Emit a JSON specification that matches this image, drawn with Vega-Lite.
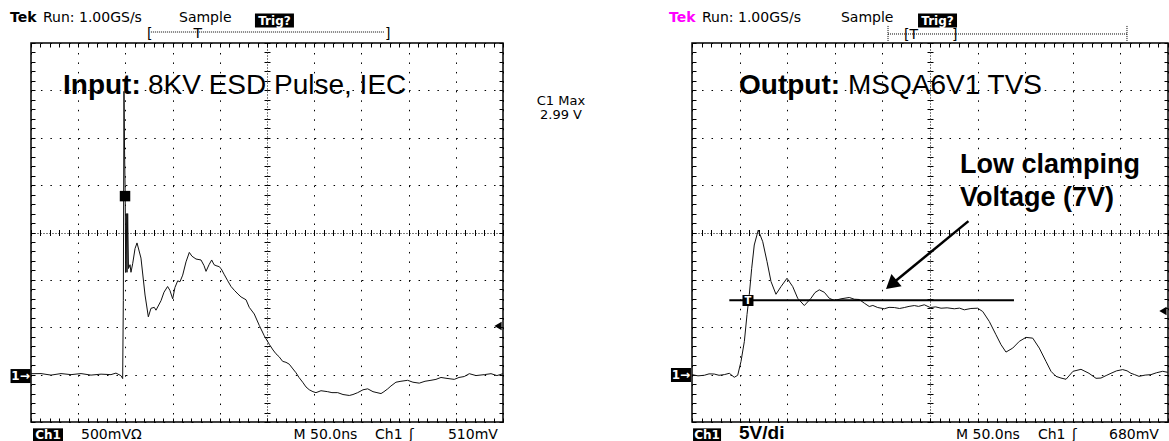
{
  "$schema": "https://vega.github.io/schema/vega-lite/v6.json",
  "autosize": {"type": "pad"},
  "padding": {"left": 9, "top": 10, "right": 0, "bottom": 0},
  "background": "white",
  "bounds": "flush",
  "spacing": 189,
  "config": {"view": {"stroke": "#000", "strokeWidth": 1.5}},
  "datasets": {
    "leftTrace": [{"t":0,"v":0.01},{"t":10.6,"v":0.011},{"t":21.2,"v":-0.005},{"t":31.8,"v":0.011},{"t":42.4,"v":0},{"t":53,"v":0.011},{"t":63.6,"v":-0.005},{"t":74.2,"v":0.005},{"t":84.7,"v":0},{"t":90,"v":0.016},{"t":95.3,"v":-0.011},{"t":97.1,"v":-0.042},{"t":97.8,"v":0.783},{"t":98.5,"v":2.99},{"t":99.1,"v":2.37},{"t":99.8,"v":1.89},{"t":100.3,"v":1.08},{"t":100.9,"v":1.7},{"t":101.7,"v":1.08},{"t":102.4,"v":1.7},{"t":103.3,"v":1.12},{"t":104.9,"v":1.16},{"t":105.9,"v":1.08},{"t":107.7,"v":1.17},{"t":110.2,"v":1.33},{"t":112.3,"v":1.39},{"t":116.5,"v":1.23},{"t":120.8,"v":0.84},{"t":124.3,"v":0.61},{"t":127.1,"v":0.7},{"t":130.6,"v":0.71},{"t":132.4,"v":0.68},{"t":137.7,"v":0.78},{"t":140.9,"v":0.87},{"t":144.7,"v":0.93},{"t":147.1,"v":0.89},{"t":150.1,"v":0.8},{"t":152.5,"v":0.92},{"t":155.4,"v":0.99},{"t":157.8,"v":0.98},{"t":160.7,"v":1.05},{"t":164.2,"v":1.19},{"t":167.7,"v":1.29},{"t":170.5,"v":1.25},{"t":174.8,"v":1.22},{"t":180.1,"v":1.21},{"t":183.3,"v":1.15},{"t":185.4,"v":1.09},{"t":188.6,"v":1.16},{"t":191.4,"v":1.21},{"t":193.9,"v":1.16},{"t":196,"v":1.15},{"t":199.2,"v":1.14},{"t":201.3,"v":1.12},{"t":204.5,"v":1.06},{"t":208.4,"v":0.99},{"t":211.9,"v":0.93},{"t":215.4,"v":0.89},{"t":219.3,"v":0.85},{"t":222.5,"v":0.82},{"t":227.8,"v":0.79},{"t":231.2,"v":0.71},{"t":236.5,"v":0.64},{"t":241.8,"v":0.52},{"t":247.1,"v":0.41},{"t":252.4,"v":0.32},{"t":256.4,"v":0.26},{"t":259.5,"v":0.22},{"t":262.7,"v":0.19},{"t":266.6,"v":0.14},{"t":270.1,"v":0.13},{"t":273.6,"v":0.11},{"t":277.5,"v":0.06},{"t":280.7,"v":0.02},{"t":283.9,"v":-0.03},{"t":287.8,"v":-0.08},{"t":291.3,"v":-0.13},{"t":294.8,"v":-0.16},{"t":298.7,"v":-0.18},{"t":301.9,"v":-0.19},{"t":307.2,"v":-0.17},{"t":314.3,"v":-0.18},{"t":318.8,"v":-0.19},{"t":324.9,"v":-0.19},{"t":330.5,"v":-0.21},{"t":337.2,"v":-0.22},{"t":341.1,"v":-0.21},{"t":346.1,"v":-0.19},{"t":351.7,"v":-0.16},{"t":356.7,"v":-0.15},{"t":362.3,"v":-0.18},{"t":366.5,"v":-0.19},{"t":370.8,"v":-0.2},{"t":373.9,"v":-0.18},{"t":377.9,"v":-0.15},{"t":381.3,"v":-0.12},{"t":386.6,"v":-0.08},{"t":391.9,"v":-0.07},{"t":399,"v":-0.06},{"t":404.6,"v":-0.08},{"t":411.3,"v":-0.09},{"t":417.4,"v":-0.07},{"t":423.7,"v":-0.06},{"t":429,"v":-0.05},{"t":434.3,"v":-0.03},{"t":440.7,"v":-0.04},{"t":448.4,"v":-0.05},{"t":453.4,"v":-0.03},{"t":459,"v":-0.02},{"t":464.3,"v":0.01},{"t":471.4,"v":-0.01},{"t":480.2,"v":0},{"t":487.3,"v":0.01},{"t":493.6,"v":-0.01},{"t":500,"v":0.01}],
    "rightTrace": [{"t":0,"v":0},{"t":6.3,"v":-0.13},{"t":12.9,"v":-0.07},{"t":17.9,"v":0.08},{"t":23.4,"v":0.06},{"t":28.4,"v":-0.07},{"t":33.9,"v":0},{"t":39.2,"v":0.14},{"t":44.4,"v":-0.28},{"t":48,"v":-0.07},{"t":51.5,"v":1.4},{"t":55,"v":3.51},{"t":57.8,"v":6.35},{"t":60.2,"v":8.45},{"t":62.7,"v":11.22},{"t":65.4,"v":13.68},{"t":69.6,"v":15.26},{"t":74.3,"v":14.03},{"t":78.8,"v":11.93},{"t":83,"v":9.82},{"t":88.2,"v":8.48},{"t":93.5,"v":9.29},{"t":99.8,"v":10.17},{"t":105.8,"v":9.29},{"t":111,"v":8.06},{"t":118,"v":7.29},{"t":125,"v":8.06},{"t":129.2,"v":8.66},{"t":133.7,"v":8.95},{"t":139,"v":8.69},{"t":144.2,"v":8.06},{"t":149.5,"v":7.82},{"t":156.5,"v":8.0},{"t":165.2,"v":8.14},{"t":170.5,"v":7.96},{"t":175.7,"v":7.93},{"t":181,"v":7.54},{"t":186.2,"v":7.19},{"t":190,"v":7.3},{"t":195.1,"v":7.08},{"t":202,"v":6.95},{"t":207,"v":7.1},{"t":212.5,"v":7.08},{"t":218,"v":6.98},{"t":223,"v":7.08},{"t":228,"v":7.2},{"t":233.5,"v":7.29},{"t":238,"v":7.2},{"t":244,"v":7.37},{"t":250.3,"v":7.08},{"t":256,"v":7.15},{"t":261.6,"v":7.01},{"t":268,"v":7.05},{"t":275.5,"v":6.95},{"t":281,"v":7.02},{"t":286,"v":6.84},{"t":293,"v":6.98},{"t":300.1,"v":7.01},{"t":305.4,"v":6.66},{"t":312.3,"v":5.61},{"t":319.3,"v":4.21},{"t":324.6,"v":3.16},{"t":329.8,"v":2.38},{"t":336.9,"v":2.8},{"t":343.8,"v":3.51},{"t":350.8,"v":3.93},{"t":357.9,"v":3.85},{"t":364.8,"v":2.8},{"t":371.8,"v":1.4},{"t":377.1,"v":0.35},{"t":382.3,"v":-0.18},{"t":387.6,"v":-0.36},{"t":392.9,"v":-0.49},{"t":400.2,"v":0.35},{"t":408.6,"v":0.56},{"t":417,"v":0.14},{"t":424.4,"v":-0.39},{"t":429.6,"v":-0.36},{"t":435,"v":-0.1},{"t":440.1,"v":0.14},{"t":446,"v":0.4},{"t":452.4,"v":0.53},{"t":457,"v":0.4},{"t":461.1,"v":0.14},{"t":465,"v":0.0},{"t":469.5,"v":-0.18},{"t":476,"v":-0.05},{"t":482.1,"v":0},{"t":488,"v":0.2},{"t":494.4,"v":0.35},{"t":500,"v":0.24}]
  },
  "hconcat": [
    {
      "width": 472,
      "height": 379,
      "resolve": {"axis": {"x": "independent", "y": "independent"}},
      "layer": [
        {
          "data": {"name": "leftTrace"},
          "mark": {"type": "line", "color": "#111", "strokeWidth": 1},
          "encoding": {
            "x": {"field": "t", "type": "quantitative", "scale": {"domain": [0, 500], "nice": false, "zero": false},
              "axis": {"orient": "bottom", "values": [0,10,20,30,40,50,60,70,80,90,100,110,120,130,140,150,160,170,180,190,200,210,220,230,240,250,260,270,280,290,300,310,320,330,340,350,360,370,380,390,400,410,420,430,440,450,460,470,480,490,500],
                "domain": false, "labels": false, "title": null, "grid": true, "gridColor": "#000", "gridWidth": 1,
                "gridOpacity": {"condition": {"test": "datum.value % 50 === 0", "value": 1}, "value": 0},
                "gridDash": {"condition": {"test": "datum.value === 250", "value": [1, 2]}, "value": [1.5, 7.975]},
                "tickSize": -4, "tickColor": "#000", "tickWidth": 1}},
            "y": {"field": "v", "type": "quantitative", "scale": {"domain": [-0.5, 3.5], "nice": false, "zero": false},
              "axis": {"orient": "left", "values": [-0.5,-0.4,-0.3,-0.2,-0.1,0,0.1,0.2,0.3,0.4,0.5,0.6,0.7,0.8,0.9,1,1.1,1.2,1.3,1.4,1.5,1.6,1.7,1.8,1.9,2,2.1,2.2,2.3,2.4,2.5,2.6,2.7,2.8,2.9,3,3.1,3.2,3.3,3.4,3.5],
                "domain": false, "labels": false, "title": null, "grid": true, "gridColor": "#000", "gridWidth": 1,
                "gridOpacity": {"condition": {"test": "abs(datum.value*2 - round(datum.value*2)) < 0.001", "value": 1}, "value": 0},
                "gridDash": {"condition": {"test": "abs(datum.value - 1.5) < 0.001", "value": [1, 2]}, "value": [1.5, 7.94]},
                "tickSize": -4, "tickColor": "#000", "tickWidth": 1}}
          }
        },
        {
          "data": {"values": [{"t": 33.9, "v": 2.962, "label": "Input:"}]},
          "mark": {"type": "text", "align": "left", "baseline": "alphabetic", "font": "Liberation Sans", "fontSize": 28, "fontWeight": "bold", "color": "#000"},
          "encoding": {
            "x": {"field": "t", "type": "quantitative", "scale": {"domain": [0, 500], "nice": false, "zero": false},
              "axis": {"orient": "top", "values": [0,10,20,30,40,50,60,70,80,90,100,110,120,130,140,150,160,170,180,190,200,210,220,230,240,250,260,270,280,290,300,310,320,330,340,350,360,370,380,390,400,410,420,430,440,450,460,470,480,490,500],
                "domain": false, "labels": false, "title": null, "grid": false, "tickSize": -4, "tickColor": "#000", "tickWidth": 1}},
            "y": {"field": "v", "type": "quantitative", "scale": {"domain": [-0.5, 3.5], "nice": false, "zero": false},
              "axis": {"orient": "right", "values": [-0.5,-0.4,-0.3,-0.2,-0.1,0,0.1,0.2,0.3,0.4,0.5,0.6,0.7,0.8,0.9,1,1.1,1.2,1.3,1.4,1.5,1.6,1.7,1.8,1.9,2,2.1,2.2,2.3,2.4,2.5,2.6,2.7,2.8,2.9,3,3.1,3.2,3.3,3.4,3.5],
                "domain": false, "labels": false, "title": null, "grid": false, "tickSize": -4, "tickColor": "#000", "tickWidth": 1}},
            "text": {"field": "label"}
          }
        },
        {
          "data": {"values": [{"t": 99.6, "v": 1.884}]},
          "mark": {"type": "point", "shape": "square", "size": 110, "filled": true, "color": "#000", "opacity": 1},
          "encoding": {
            "x": {"field": "t", "type": "quantitative", "scale": {"domain": [0, 500], "nice": false, "zero": false},
              "axis": {"orient": "bottom", "offset": -189.5, "values": [0,10,20,30,40,50,60,70,80,90,100,110,120,130,140,150,160,170,180,190,200,210,220,230,240,250,260,270,280,290,300,310,320,330,340,350,360,370,380,390,400,410,420,430,440,450,460,470,480,490,500],
                "domain": false, "labels": false, "title": null, "grid": false, "tickSize": 3, "tickColor": "#000", "tickWidth": 1}},
            "y": {"field": "v", "type": "quantitative", "scale": {"domain": [-0.5, 3.5], "nice": false, "zero": false},
              "axis": {"orient": "left", "offset": -236, "values": [-0.5,-0.4,-0.3,-0.2,-0.1,0,0.1,0.2,0.3,0.4,0.5,0.6,0.7,0.8,0.9,1,1.1,1.2,1.3,1.4,1.5,1.6,1.7,1.8,1.9,2,2.1,2.2,2.3,2.4,2.5,2.6,2.7,2.8,2.9,3,3.1,3.2,3.3,3.4,3.5],
                "domain": false, "labels": false, "title": null, "grid": false, "tickSize": 3, "tickColor": "#000", "tickWidth": 1}}
          }
        },
        {
          "data": {"values": [{"t": 123.9, "v": 2.962, "label": "8KV ESD Pulse, IEC"}]},
          "mark": {"type": "text", "align": "left", "baseline": "alphabetic", "font": "Liberation Sans", "fontSize": 28, "color": "#000"},
          "encoding": {
            "x": {"field": "t", "type": "quantitative", "scale": {"domain": [0, 500], "nice": false, "zero": false},
              "axis": {"orient": "top", "offset": -189.5, "values": [0,10,20,30,40,50,60,70,80,90,100,110,120,130,140,150,160,170,180,190,200,210,220,230,240,250,260,270,280,290,300,310,320,330,340,350,360,370,380,390,400,410,420,430,440,450,460,470,480,490,500],
                "domain": false, "labels": false, "title": null, "grid": false, "tickSize": 3, "tickColor": "#000", "tickWidth": 1}},
            "y": {"field": "v", "type": "quantitative", "scale": {"domain": [-0.5, 3.5], "nice": false, "zero": false},
              "axis": {"orient": "right", "offset": -236, "values": [-0.5,-0.4,-0.3,-0.2,-0.1,0,0.1,0.2,0.3,0.4,0.5,0.6,0.7,0.8,0.9,1,1.1,1.2,1.3,1.4,1.5,1.6,1.7,1.8,1.9,2,2.1,2.2,2.3,2.4,2.5,2.6,2.7,2.8,2.9,3,3.1,3.2,3.3,3.4,3.5],
                "domain": false, "labels": false, "title": null, "grid": false, "tickSize": 3, "tickColor": "#000", "tickWidth": 1}},
            "text": {"field": "label"}
          }
        },
        {
          "data": {"values": [
            {"t": 12.7, "v": 3.72, "label": "Run: 1.00GS/s"},
            {"t": 156.8, "v": 3.72, "label": "Sample"},
            {"t": 53, "v": -0.68, "label": "500mVΩ"},
            {"t": 278.1, "v": -0.68, "label": "M 50.0ns"},
            {"t": 364.4, "v": -0.68, "label": "Ch1"},
            {"t": 400.4, "v": -0.68, "label": "ʃ"},
            {"t": 441.7, "v": -0.68, "label": "510mV"},
            {"t": 122.9, "v": 3.553, "label": "["},
            {"t": 375, "v": 3.553, "label": "]"},
            {"t": 172.1, "v": 3.553, "label": "T"}
          ]},
          "mark": {"type": "text", "align": "left", "baseline": "alphabetic", "font": "DejaVu Sans", "fontSize": 14, "color": "#000"},
          "encoding": {
            "x": {"field": "t", "type": "quantitative", "scale": {"domain": [0, 500], "nice": false, "zero": false}, "axis": null},
            "y": {"field": "v", "type": "quantitative", "scale": {"domain": [-0.5, 3.5], "nice": false, "zero": false}, "axis": null},
            "text": {"field": "label"}
          }
        },
        {
          "data": {"values": [{"t": -22.2, "v": 3.72, "label": "Tek"}]},
          "mark": {"type": "text", "align": "left", "baseline": "alphabetic", "font": "DejaVu Sans", "fontSize": 14, "fontWeight": "bold", "color": "#000"},
          "encoding": {
            "x": {"field": "t", "type": "quantitative", "scale": {"domain": [0, 500], "nice": false, "zero": false}, "axis": null},
            "y": {"field": "v", "type": "quantitative", "scale": {"domain": [-0.5, 3.5], "nice": false, "zero": false}, "axis": null},
            "text": {"field": "label"}
          }
        },
        {
          "data": {"values": [{"t": 561.4, "v": 2.845, "label": "C1 Max"}, {"t": 561.4, "v": 2.698, "label": "2.99 V"}]},
          "mark": {"type": "text", "align": "center", "baseline": "alphabetic", "font": "DejaVu Sans", "fontSize": 13, "color": "#000"},
          "encoding": {
            "x": {"field": "t", "type": "quantitative", "scale": {"domain": [0, 500], "nice": false, "zero": false}, "axis": null},
            "y": {"field": "v", "type": "quantitative", "scale": {"domain": [-0.5, 3.5], "nice": false, "zero": false}, "axis": null},
            "text": {"field": "label"}
          }
        },
        {
          "data": {"values": [{"t": 257.9, "v": 3.737}]},
          "mark": {"type": "point", "shape": "M-1,-0.36H1V0.36H-1Z", "size": 1521, "filled": true, "color": "#000", "opacity": 1},
          "encoding": {
            "x": {"field": "t", "type": "quantitative", "scale": {"domain": [0, 500], "nice": false, "zero": false}, "axis": null},
            "y": {"field": "v", "type": "quantitative", "scale": {"domain": [-0.5, 3.5], "nice": false, "zero": false}, "axis": null}
          }
        },
        {
          "data": {"values": [{"t": 18, "v": -0.635}]},
          "mark": {"type": "point", "shape": "M-1,-0.43H1V0.43H-1Z", "size": 900, "filled": true, "color": "#000", "opacity": 1},
          "encoding": {
            "x": {"field": "t", "type": "quantitative", "scale": {"domain": [0, 500], "nice": false, "zero": false}, "axis": null},
            "y": {"field": "v", "type": "quantitative", "scale": {"domain": [-0.5, 3.5], "nice": false, "zero": false}, "axis": null}
          }
        },
        {
          "data": {"values": [{"t": -11.1, "v": -0.015}]},
          "mark": {"type": "point", "shape": "M-1,-0.7H1V0.7H-1Z", "size": 400, "filled": true, "color": "#000", "opacity": 1},
          "encoding": {
            "x": {"field": "t", "type": "quantitative", "scale": {"domain": [0, 500], "nice": false, "zero": false}, "axis": null},
            "y": {"field": "v", "type": "quantitative", "scale": {"domain": [-0.5, 3.5], "nice": false, "zero": false}, "axis": null}
          }
        },
        {
          "data": {"values": [{"t": 257.9, "v": 3.737, "label": "Trig?"}, {"t": 18, "v": -0.635, "label": "Ch1"}, {"t": -11.1, "v": -0.015, "label": "1→"}]},
          "mark": {"type": "text", "align": "center", "baseline": "middle", "font": "DejaVu Sans", "fontSize": 12, "fontWeight": "bold", "color": "#fff"},
          "encoding": {
            "x": {"field": "t", "type": "quantitative", "scale": {"domain": [0, 500], "nice": false, "zero": false}, "axis": null},
            "y": {"field": "v", "type": "quantitative", "scale": {"domain": [-0.5, 3.5], "nice": false, "zero": false}, "axis": null},
            "text": {"field": "label"}
          }
        },
        {
          "data": {"values": [{"t": 127, "t2": 374, "v": 3.616}]},
          "mark": {"type": "rule", "color": "#000", "strokeWidth": 1, "strokeDash": [1, 1]},
          "encoding": {
            "x": {"field": "t", "type": "quantitative", "scale": {"domain": [0, 500], "nice": false, "zero": false}, "axis": null},
            "x2": {"field": "t2"},
            "y": {"field": "v", "type": "quantitative", "scale": {"domain": [-0.5, 3.5], "nice": false, "zero": false}, "axis": null}
          }
        },
        {
          "data": {"values": [{"t": 494.7, "v": 0.513}]},
          "mark": {"type": "point", "shape": "triangle-left", "size": 70, "filled": true, "color": "#000", "opacity": 1},
          "encoding": {
            "x": {"field": "t", "type": "quantitative", "scale": {"domain": [0, 500], "nice": false, "zero": false}, "axis": null},
            "y": {"field": "v", "type": "quantitative", "scale": {"domain": [-0.5, 3.5], "nice": false, "zero": false}, "axis": null}
          }
        }
      ]
    },
    {
      "width": 476,
      "height": 379,
      "resolve": {"axis": {"x": "independent", "y": "independent"}},
      "layer": [
        {
          "data": {"name": "rightTrace"},
          "mark": {"type": "line", "color": "#111", "strokeWidth": 1},
          "encoding": {
            "x": {"field": "t", "type": "quantitative", "scale": {"domain": [0, 500], "nice": false, "zero": false},
              "axis": {"orient": "bottom", "values": [0,10,20,30,40,50,60,70,80,90,100,110,120,130,140,150,160,170,180,190,200,210,220,230,240,250,260,270,280,290,300,310,320,330,340,350,360,370,380,390,400,410,420,430,440,450,460,470,480,490,500],
                "domain": false, "labels": false, "title": null, "grid": true, "gridColor": "#000", "gridWidth": 1,
                "gridOpacity": {"condition": {"test": "datum.value % 50 === 0", "value": 1}, "value": 0},
                "gridDash": {"condition": {"test": "datum.value === 250", "value": [1, 2]}, "value": [1.5, 7.975]},
                "tickSize": -4, "tickColor": "#000", "tickWidth": 1}},
            "y": {"field": "v", "type": "quantitative", "scale": {"domain": [-5, 35], "nice": false, "zero": false},
              "axis": {"orient": "left", "values": [-5,-4,-3,-2,-1,0,1,2,3,4,5,6,7,8,9,10,11,12,13,14,15,16,17,18,19,20,21,22,23,24,25,26,27,28,29,30,31,32,33,34,35],
                "domain": false, "labels": false, "title": null, "grid": true, "gridColor": "#000", "gridWidth": 1,
                "gridOpacity": {"condition": {"test": "datum.value % 5 === 0", "value": 1}, "value": 0},
                "gridDash": {"condition": {"test": "datum.value === 15", "value": [1, 2]}, "value": [1.5, 8.02]},
                "tickSize": -4, "tickColor": "#000", "tickWidth": 1}}
          }
        },
        {
          "data": {"values": [{"t": 281.5, "v": 21.28, "label": "Low clamping"}, {"t": 281.5, "v": 17.8, "label": "Voltage (7V)"}]},
          "mark": {"type": "text", "align": "left", "baseline": "alphabetic", "font": "Liberation Sans", "fontSize": 27, "fontWeight": "bold", "color": "#000"},
          "encoding": {
            "x": {"field": "t", "type": "quantitative", "scale": {"domain": [0, 500], "nice": false, "zero": false},
              "axis": {"orient": "top", "values": [0,10,20,30,40,50,60,70,80,90,100,110,120,130,140,150,160,170,180,190,200,210,220,230,240,250,260,270,280,290,300,310,320,330,340,350,360,370,380,390,400,410,420,430,440,450,460,470,480,490,500],
                "domain": false, "labels": false, "title": null, "grid": false, "tickSize": -4, "tickColor": "#000", "tickWidth": 1}},
            "y": {"field": "v", "type": "quantitative", "scale": {"domain": [-5, 35], "nice": false, "zero": false},
              "axis": {"orient": "right", "values": [-5,-4,-3,-2,-1,0,1,2,3,4,5,6,7,8,9,10,11,12,13,14,15,16,17,18,19,20,21,22,23,24,25,26,27,28,29,30,31,32,33,34,35],
                "domain": false, "labels": false, "title": null, "grid": false, "tickSize": -4, "tickColor": "#000", "tickWidth": 1}},
            "text": {"field": "label"}
          }
        },
        {
          "data": {"values": [{"t": 58.8, "v": 7.82}]},
          "mark": {"type": "point", "shape": "square", "size": 121, "filled": true, "color": "#000", "opacity": 1},
          "encoding": {
            "x": {"field": "t", "type": "quantitative", "scale": {"domain": [0, 500], "nice": false, "zero": false},
              "axis": {"orient": "bottom", "offset": -189.5, "values": [0,10,20,30,40,50,60,70,80,90,100,110,120,130,140,150,160,170,180,190,200,210,220,230,240,250,260,270,280,290,300,310,320,330,340,350,360,370,380,390,400,410,420,430,440,450,460,470,480,490,500],
                "domain": false, "labels": false, "title": null, "grid": false, "tickSize": 3, "tickColor": "#000", "tickWidth": 1}},
            "y": {"field": "v", "type": "quantitative", "scale": {"domain": [-5, 35], "nice": false, "zero": false},
              "axis": {"orient": "left", "offset": -238, "values": [-5,-4,-3,-2,-1,0,1,2,3,4,5,6,7,8,9,10,11,12,13,14,15,16,17,18,19,20,21,22,23,24,25,26,27,28,29,30,31,32,33,34,35],
                "domain": false, "labels": false, "title": null, "grid": false, "tickSize": 3, "tickColor": "#000", "tickWidth": 1}}
          }
        },
        {
          "data": {"values": [{"t": 163.9, "v": 29.6, "label": "MSQA6V1 TVS"}]},
          "mark": {"type": "text", "align": "left", "baseline": "alphabetic", "font": "Liberation Sans", "fontSize": 28, "color": "#000"},
          "encoding": {
            "x": {"field": "t", "type": "quantitative", "scale": {"domain": [0, 500], "nice": false, "zero": false},
              "axis": {"orient": "top", "offset": -189.5, "values": [0,10,20,30,40,50,60,70,80,90,100,110,120,130,140,150,160,170,180,190,200,210,220,230,240,250,260,270,280,290,300,310,320,330,340,350,360,370,380,390,400,410,420,430,440,450,460,470,480,490,500],
                "domain": false, "labels": false, "title": null, "grid": false, "tickSize": 3, "tickColor": "#000", "tickWidth": 1}},
            "y": {"field": "v", "type": "quantitative", "scale": {"domain": [-5, 35], "nice": false, "zero": false},
              "axis": {"orient": "right", "offset": -238, "values": [-5,-4,-3,-2,-1,0,1,2,3,4,5,6,7,8,9,10,11,12,13,14,15,16,17,18,19,20,21,22,23,24,25,26,27,28,29,30,31,32,33,34,35],
                "domain": false, "labels": false, "title": null, "grid": false, "tickSize": 3, "tickColor": "#000", "tickWidth": 1}},
            "text": {"field": "label"}
          }
        },
        {
          "data": {"values": [{"t": 49.4, "v": 29.6, "label": "Output:"}]},
          "mark": {"type": "text", "align": "left", "baseline": "alphabetic", "font": "Liberation Sans", "fontSize": 28, "fontWeight": "bold", "color": "#000"},
          "encoding": {
            "x": {"field": "t", "type": "quantitative", "scale": {"domain": [0, 500], "nice": false, "zero": false}, "axis": null},
            "y": {"field": "v", "type": "quantitative", "scale": {"domain": [-5, 35], "nice": false, "zero": false}, "axis": null},
            "text": {"field": "label"}
          }
        },
        {
          "data": {"values": [{"t": 39.2, "t2": 338.2, "v": 7.84}]},
          "mark": {"type": "rule", "color": "#000", "strokeWidth": 2},
          "encoding": {
            "x": {"field": "t", "type": "quantitative", "scale": {"domain": [0, 500], "nice": false, "zero": false}, "axis": null},
            "x2": {"field": "t2"},
            "y": {"field": "v", "type": "quantitative", "scale": {"domain": [-5, 35], "nice": false, "zero": false}, "axis": null}
          }
        },
        {
          "data": {"values": [{"t": 290.4, "v": 16.2, "t2": 209.3, "v2": 9.51}]},
          "mark": {"type": "rule", "color": "#000", "strokeWidth": 2.5},
          "encoding": {
            "x": {"field": "t", "type": "quantitative", "scale": {"domain": [0, 500], "nice": false, "zero": false}, "axis": null},
            "x2": {"field": "t2"},
            "y": {"field": "v", "type": "quantitative", "scale": {"domain": [-5, 35], "nice": false, "zero": false}, "axis": null},
            "y2": {"field": "v2"}
          }
        },
        {
          "data": {"values": [{"t": 209.3, "v": 9.51}]},
          "mark": {"type": "point", "shape": "triangle-up", "size": 250, "angle": 230, "filled": true, "color": "#000", "opacity": 1},
          "encoding": {
            "x": {"field": "t", "type": "quantitative", "scale": {"domain": [0, 500], "nice": false, "zero": false}, "axis": null},
            "y": {"field": "v", "type": "quantitative", "scale": {"domain": [-5, 35], "nice": false, "zero": false}, "axis": null}
          }
        },
        {
          "data": {"values": [
            {"t": 10.5, "v": 37.2, "label": "Run: 1.00GS/s"},
            {"t": 156.5, "v": 37.2, "label": "Sample"},
            {"t": 277.3, "v": -6.8, "label": "M 50.0ns"},
            {"t": 363.4, "v": -6.8, "label": "Ch1"},
            {"t": 399.2, "v": -6.8, "label": "ʃ"},
            {"t": 438, "v": -6.8, "label": "680mV"},
            {"t": 222.7, "v": 35.42, "label": "[T"},
            {"t": 273.1, "v": 35.42, "label": "]"}
          ]},
          "mark": {"type": "text", "align": "left", "baseline": "alphabetic", "font": "DejaVu Sans", "fontSize": 14, "color": "#000"},
          "encoding": {
            "x": {"field": "t", "type": "quantitative", "scale": {"domain": [0, 500], "nice": false, "zero": false}, "axis": null},
            "y": {"field": "v", "type": "quantitative", "scale": {"domain": [-5, 35], "nice": false, "zero": false}, "axis": null},
            "text": {"field": "label"}
          }
        },
        {
          "data": {"values": [{"t": -24.2, "v": 37.2, "label": "Tek"}]},
          "mark": {"type": "text", "align": "left", "baseline": "alphabetic", "font": "DejaVu Sans", "fontSize": 14, "fontWeight": "bold", "color": "#ff00ff"},
          "encoding": {
            "x": {"field": "t", "type": "quantitative", "scale": {"domain": [0, 500], "nice": false, "zero": false}, "axis": null},
            "y": {"field": "v", "type": "quantitative", "scale": {"domain": [-5, 35], "nice": false, "zero": false}, "axis": null},
            "text": {"field": "label"}
          }
        },
        {
          "data": {"values": [{"t": 49.4, "v": -6.8, "label": "5V/di"}]},
          "mark": {"type": "text", "align": "left", "baseline": "alphabetic", "font": "Liberation Sans", "fontSize": 19, "fontWeight": "bold", "color": "#000"},
          "encoding": {
            "x": {"field": "t", "type": "quantitative", "scale": {"domain": [0, 500], "nice": false, "zero": false}, "axis": null},
            "y": {"field": "v", "type": "quantitative", "scale": {"domain": [-5, 35], "nice": false, "zero": false}, "axis": null},
            "text": {"field": "label"}
          }
        },
        {
          "data": {"values": [{"t": 257.9, "v": 37.37}]},
          "mark": {"type": "point", "shape": "M-1,-0.36H1V0.36H-1Z", "size": 1521, "filled": true, "color": "#000", "opacity": 1},
          "encoding": {
            "x": {"field": "t", "type": "quantitative", "scale": {"domain": [0, 500], "nice": false, "zero": false}, "axis": null},
            "y": {"field": "v", "type": "quantitative", "scale": {"domain": [-5, 35], "nice": false, "zero": false}, "axis": null}
          }
        },
        {
          "data": {"values": [{"t": 15.8, "v": -6.35}]},
          "mark": {"type": "point", "shape": "M-1,-0.46H1V0.46H-1Z", "size": 784, "filled": true, "color": "#000", "opacity": 1},
          "encoding": {
            "x": {"field": "t", "type": "quantitative", "scale": {"domain": [0, 500], "nice": false, "zero": false}, "axis": null},
            "y": {"field": "v", "type": "quantitative", "scale": {"domain": [-5, 35], "nice": false, "zero": false}, "axis": null}
          }
        },
        {
          "data": {"values": [{"t": -11.6, "v": -0.04}]},
          "mark": {"type": "point", "shape": "M-1,-0.7H1V0.7H-1Z", "size": 400, "filled": true, "color": "#000", "opacity": 1},
          "encoding": {
            "x": {"field": "t", "type": "quantitative", "scale": {"domain": [0, 500], "nice": false, "zero": false}, "axis": null},
            "y": {"field": "v", "type": "quantitative", "scale": {"domain": [-5, 35], "nice": false, "zero": false}, "axis": null}
          }
        },
        {
          "data": {"values": [{"t": 257.9, "v": 37.37, "label": "Trig?"}, {"t": 15.8, "v": -6.35, "label": "Ch1"}, {"t": -11.6, "v": -0.04, "label": "1→"}]},
          "mark": {"type": "text", "align": "center", "baseline": "middle", "font": "DejaVu Sans", "fontSize": 12, "fontWeight": "bold", "color": "#fff"},
          "encoding": {
            "x": {"field": "t", "type": "quantitative", "scale": {"domain": [0, 500], "nice": false, "zero": false}, "axis": null},
            "y": {"field": "v", "type": "quantitative", "scale": {"domain": [-5, 35], "nice": false, "zero": false}, "axis": null},
            "text": {"field": "label"}
          }
        },
        {
          "data": {"values": [{"t": 58.8, "v": 7.82, "label": "T"}]},
          "mark": {"type": "text", "align": "center", "baseline": "middle", "font": "DejaVu Sans", "fontSize": 10, "fontWeight": "bold", "color": "#fff"},
          "encoding": {
            "x": {"field": "t", "type": "quantitative", "scale": {"domain": [0, 500], "nice": false, "zero": false}, "axis": null},
            "y": {"field": "v", "type": "quantitative", "scale": {"domain": [-5, 35], "nice": false, "zero": false}, "axis": null},
            "text": {"field": "label"}
          }
        },
        {
          "data": {"values": [{"t": 205.9, "t2": 456.9, "v": 35.95}]},
          "mark": {"type": "rule", "color": "#000", "strokeWidth": 1, "strokeDash": [1, 1]},
          "encoding": {
            "x": {"field": "t", "type": "quantitative", "scale": {"domain": [0, 500], "nice": false, "zero": false}, "axis": null},
            "x2": {"field": "t2"},
            "y": {"field": "v", "type": "quantitative", "scale": {"domain": [-5, 35], "nice": false, "zero": false}, "axis": null}
          }
        },
        {
          "data": {"values": [{"t": 205.9, "v": 36.8, "v2": 35.2}, {"t": 456.9, "v": 36.8, "v2": 35.2}]},
          "mark": {"type": "rule", "color": "#000", "strokeWidth": 1, "strokeDash": [1, 1]},
          "encoding": {
            "x": {"field": "t", "type": "quantitative", "scale": {"domain": [0, 500], "nice": false, "zero": false}, "axis": null},
            "y": {"field": "v", "type": "quantitative", "scale": {"domain": [-5, 35], "nice": false, "zero": false}, "axis": null},
            "y2": {"field": "v2"}
          }
        },
        {
          "data": {"values": [{"t": 494.7, "v": 6.71}]},
          "mark": {"type": "point", "shape": "triangle-left", "size": 70, "filled": true, "color": "#000", "opacity": 1},
          "encoding": {
            "x": {"field": "t", "type": "quantitative", "scale": {"domain": [0, 500], "nice": false, "zero": false}, "axis": null},
            "y": {"field": "v", "type": "quantitative", "scale": {"domain": [-5, 35], "nice": false, "zero": false}, "axis": null}
          }
        }
      ]
    }
  ]
}
